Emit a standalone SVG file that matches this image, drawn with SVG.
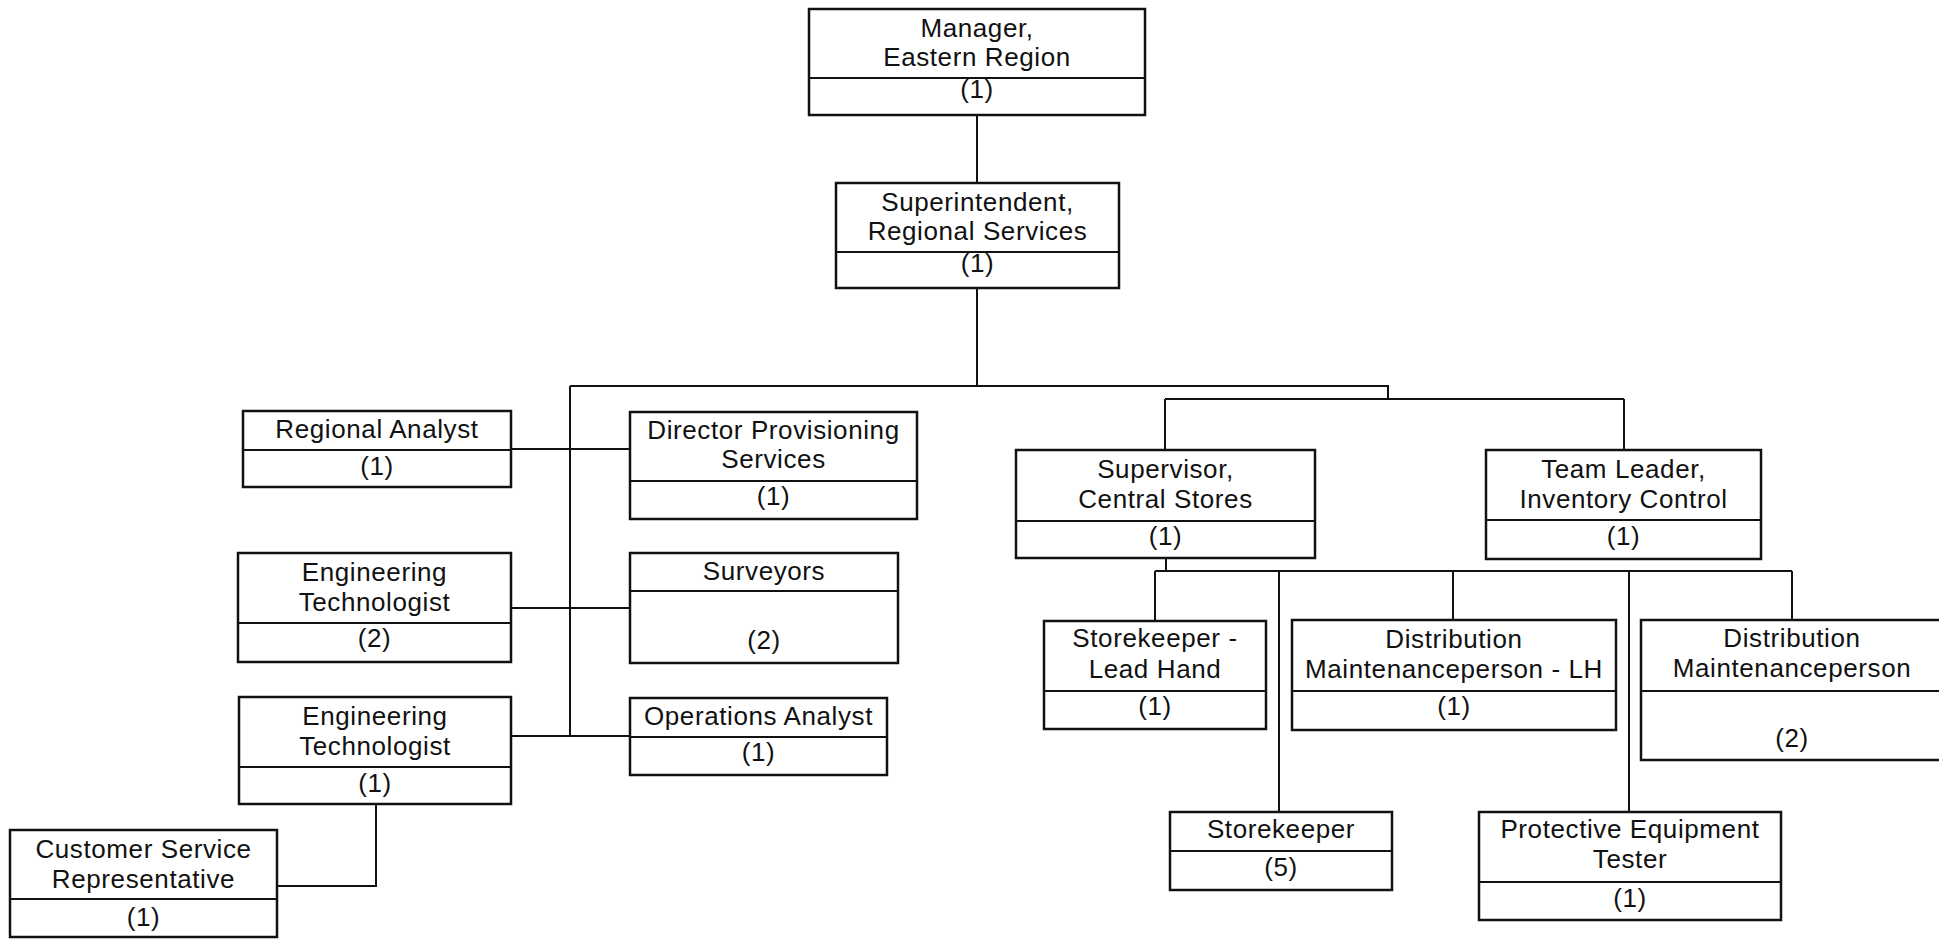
<svg xmlns="http://www.w3.org/2000/svg" width="1939" height="939" viewBox="0 0 1939 939">
<style>
.bg{fill:#ffffff}
.box rect{fill:#ffffff;stroke:#111111;stroke-width:2.5}
.box line{stroke:#111111;stroke-width:2}
.box text{font-family:"Liberation Sans",Arial,sans-serif;font-size:26px;fill:#111111;text-anchor:middle;letter-spacing:0.6px}
#connectors path{fill:none;stroke:#111111;stroke-width:2}
</style>
<rect class="bg" x="0" y="0" width="1939" height="939"/>
<g id="connectors">
<path d="M977,115 V183"/>
<path d="M977,288 V386"/>
<path d="M570,386 H1388 V399"/>
<path d="M1165,399 H1624"/>
<path d="M1165,399 V450"/>
<path d="M1624,399 V450"/>
<path d="M570,386 V736"/>
<path d="M511,449 H630"/>
<path d="M511,608 H630"/>
<path d="M511,736 H630"/>
<path d="M376,804 V886 H277"/>
<path d="M1166,558 V571"/>
<path d="M1155,571 H1792"/>
<path d="M1155,571 V621"/>
<path d="M1279,571 V812"/>
<path d="M1453,571 V620"/>
<path d="M1629,571 V812"/>
<path d="M1792,571 V620"/>
</g>
<g id="manager" class="box">
<rect x="809" y="9" width="336" height="106"/>
<line x1="809" y1="78" x2="1145" y2="78"/>
<text x="977" y="37">Manager,</text>
<text x="977" y="66">Eastern Region</text>
<text x="977" y="98">(1)</text>
</g>
<g id="superintendent" class="box">
<rect x="836" y="183" width="283" height="105"/>
<line x1="836" y1="252" x2="1119" y2="252"/>
<text x="977.5" y="211">Superintendent,</text>
<text x="977.5" y="240">Regional Services</text>
<text x="977.5" y="272">(1)</text>
</g>
<g id="regional-analyst" class="box">
<rect x="243" y="411" width="268" height="76"/>
<line x1="243" y1="450" x2="511" y2="450"/>
<text x="377" y="438">Regional Analyst</text>
<text x="377" y="475">(1)</text>
</g>
<g id="director-provisioning" class="box">
<rect x="630" y="412" width="287" height="107"/>
<line x1="630" y1="481" x2="917" y2="481"/>
<text x="773.5" y="439">Director Provisioning</text>
<text x="773.5" y="468">Services</text>
<text x="773.5" y="505">(1)</text>
</g>
<g id="eng-tech-2" class="box">
<rect x="238" y="553" width="273" height="109"/>
<line x1="238" y1="623" x2="511" y2="623"/>
<text x="374.5" y="581">Engineering</text>
<text x="374.5" y="611">Technologist</text>
<text x="374.5" y="647">(2)</text>
</g>
<g id="surveyors" class="box">
<rect x="630" y="553" width="268" height="110"/>
<line x1="630" y1="591" x2="898" y2="591"/>
<text x="764" y="580">Surveyors</text>
<text x="764" y="649">(2)</text>
</g>
<g id="eng-tech-1" class="box">
<rect x="239" y="697" width="272" height="107"/>
<line x1="239" y1="767" x2="511" y2="767"/>
<text x="375" y="725">Engineering</text>
<text x="375" y="755">Technologist</text>
<text x="375" y="792">(1)</text>
</g>
<g id="operations-analyst" class="box">
<rect x="630" y="698" width="257" height="77"/>
<line x1="630" y1="737" x2="887" y2="737"/>
<text x="758.5" y="725">Operations Analyst</text>
<text x="758.5" y="761">(1)</text>
</g>
<g id="customer-service" class="box">
<rect x="10" y="830" width="267" height="107"/>
<line x1="10" y1="899" x2="277" y2="899"/>
<text x="143.5" y="858">Customer Service</text>
<text x="143.5" y="888">Representative</text>
<text x="143.5" y="926">(1)</text>
</g>
<g id="supervisor-central-stores" class="box">
<rect x="1016" y="450" width="299" height="108"/>
<line x1="1016" y1="521" x2="1315" y2="521"/>
<text x="1165.5" y="478">Supervisor,</text>
<text x="1165.5" y="508">Central Stores</text>
<text x="1165.5" y="545">(1)</text>
</g>
<g id="team-leader" class="box">
<rect x="1486" y="450" width="275" height="109"/>
<line x1="1486" y1="520" x2="1761" y2="520"/>
<text x="1623.5" y="478">Team Leader,</text>
<text x="1623.5" y="508">Inventory Control</text>
<text x="1623.5" y="545">(1)</text>
</g>
<g id="storekeeper-lead-hand" class="box">
<rect x="1044" y="621" width="222" height="108"/>
<line x1="1044" y1="691" x2="1266" y2="691"/>
<text x="1155" y="647">Storekeeper -</text>
<text x="1155" y="678">Lead Hand</text>
<text x="1155" y="715">(1)</text>
</g>
<g id="dist-maint-lh" class="box">
<rect x="1292" y="620" width="324" height="110"/>
<line x1="1292" y1="691" x2="1616" y2="691"/>
<text x="1454" y="648">Distribution</text>
<text x="1454" y="678">Maintenanceperson - LH</text>
<text x="1454" y="715">(1)</text>
</g>
<g id="dist-maint" class="box">
<rect x="1641" y="620" width="305" height="140"/>
<line x1="1641" y1="691" x2="1946" y2="691"/>
<text x="1792" y="647">Distribution</text>
<text x="1792" y="677">Maintenanceperson</text>
<text x="1792" y="747">(2)</text>
</g>
<g id="storekeeper" class="box">
<rect x="1170" y="812" width="222" height="78"/>
<line x1="1170" y1="851" x2="1392" y2="851"/>
<text x="1281" y="838">Storekeeper</text>
<text x="1281" y="876">(5)</text>
</g>
<g id="protective-equipment-tester" class="box">
<rect x="1479" y="812" width="302" height="108"/>
<line x1="1479" y1="882" x2="1781" y2="882"/>
<text x="1630" y="838">Protective Equipment</text>
<text x="1630" y="868">Tester</text>
<text x="1630" y="907">(1)</text>
</g>
</svg>
